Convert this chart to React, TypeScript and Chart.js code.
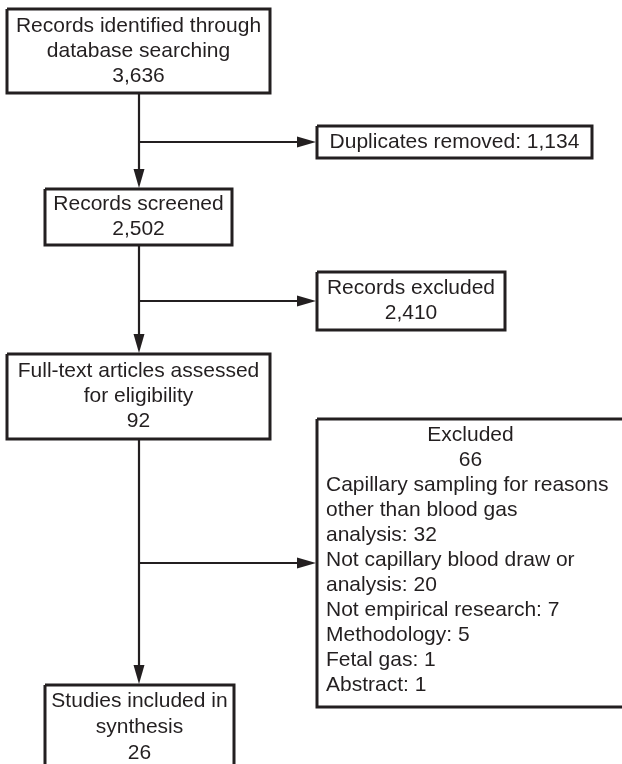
import React, { useEffect, useRef } from "react";
import { Chart, registerables } from "chart.js";

Chart.register(...registerables);

// ---- Data (counts and labels) ----
const stageLabels: string[][] = [
  ["Records identified through", "database searching"],
  ["Records screened"],
  ["Full-text articles assessed", "for eligibility"],
  ["Studies included in", "synthesis"],
];
const stageCounts: number[] = [3636, 2502, 92, 26];

const removedLabels: string[] = ["Duplicates removed", "Records excluded", "Excluded"];
const removedCounts: number[] = [1134, 2410, 66];

const reasonLabels: string[][] = [
  ["Capillary sampling for reasons", "other than blood gas", "analysis"],
  ["Not capillary blood draw or", "analysis"],
  ["Not empirical research"],
  ["Methodology"],
  ["Fetal gas"],
  ["Abstract"],
];
const reasonCounts: number[] = [32, 20, 7, 5, 1, 1];

// ---- Layout (diagram units) ----
const W = 622;
const H = 764;
type Rect = { x0: number; y0: number; x1: number; y1: number };
const stageBoxes: Rect[] = [
  { x0: 7, y0: 9, x1: 270, y1: 93 },
  { x0: 45, y0: 189, x1: 232, y1: 245 },
  { x0: 7, y0: 354, x1: 270, y1: 439 },
  { x0: 45, y0: 685, x1: 234, y1: 772 },
];
const sideBoxes: Rect[] = [
  { x0: 317, y0: 126, x1: 592, y1: 158 },
  { x0: 317, y0: 272, x1: 505, y1: 330 },
  { x0: 317, y0: 419, x1: 626, y1: 707 },
];
const spineX = 139;
const branchY = [142, 301, 563];

const INK = "#231f20";
const FONT = '21px "Liberation Sans", Arial, sans-serif';
const LINE_H = 25;

const fmt = (n: number) => n.toLocaleString("en-US");

type Seg = { from: [number, number]; to: [number, number] };
const connectors: Seg[] = [
  { from: [spineX, stageBoxes[0].y1], to: [spineX, stageBoxes[1].y0 - 1] },
  { from: [spineX, branchY[0]], to: [sideBoxes[0].x0 - 1, branchY[0]] },
  { from: [spineX, stageBoxes[1].y1], to: [spineX, stageBoxes[2].y0 - 1] },
  { from: [spineX, branchY[1]], to: [sideBoxes[1].x0 - 1, branchY[1]] },
  { from: [spineX, stageBoxes[2].y1], to: [spineX, stageBoxes[3].y0 - 1] },
  { from: [spineX, branchY[2]], to: [sideBoxes[2].x0 - 1, branchY[2]] },
];

const rectPoints = (r: Rect) => [
  { x: r.x0, y: r.y0 },
  { x: r.x1, y: r.y0 },
  { x: r.x1, y: r.y1 },
  { x: r.x0, y: r.y1 },
  { x: r.x0, y: r.y0 },
];

const ARROW_LEN = 19;
const ARROW_HALF = 5.5;

const diagramPlugin = {
  id: "diagramText",
  afterDatasetsDraw(chart: any) {
    const { ctx, scales } = chart;
    const xs = scales.x;
    const ys = scales.y;
    const px = (v: number) => xs.getPixelForValue(v);
    const py = (v: number) => ys.getPixelForValue(v);

    // arrowheads
    ctx.save();
    ctx.fillStyle = INK;
    connectors.forEach((c) => {
      const tx = px(c.to[0]);
      const ty = py(c.to[1]);
      const fx = px(c.from[0]);
      const fy = py(c.from[1]);
      const ang = Math.atan2(ty - fy, tx - fx);
      ctx.save();
      ctx.translate(tx, ty);
      ctx.rotate(ang);
      ctx.beginPath();
      ctx.moveTo(0, 0);
      ctx.lineTo(-ARROW_LEN, -ARROW_HALF);
      ctx.lineTo(-ARROW_LEN, ARROW_HALF);
      ctx.closePath();
      ctx.fill();
      ctx.restore();
    });

    // texts
    ctx.font = FONT;
    ctx.textBaseline = "middle";
    ctx.fillStyle = INK;

    const centered = (lines: string[], r: Rect, topY?: number, lh: number = LINE_H) => {
      const cx = (r.x0 + r.x1) / 2;
      const total = lines.length * lh;
      const start = topY !== undefined ? topY : (r.y0 + r.y1) / 2 - total / 2 + lh / 2;
      ctx.textAlign = "center";
      lines.forEach((l, i) => ctx.fillText(l, px(cx), py(start + i * lh)));
    };

    stageLabels.forEach((lab, i) => {
      const lines = [...lab, fmt(stageCounts[i])];
      const r = stageBoxes[i];
      if (i === 3) centered(lines, r, r.y0 + 16, 26);
      else centered(lines, r);
    });

    centered([`${removedLabels[0]}: ${fmt(removedCounts[0])}`], sideBoxes[0]);
    centered([removedLabels[1], fmt(removedCounts[1])], sideBoxes[1]);

    // Excluded box
    const eb = sideBoxes[2];
    const ecx = (eb.x0 + W) / 2 + 1;
    const top = eb.y0 + 16;
    ctx.textAlign = "center";
    ctx.fillText(removedLabels[2], px(ecx), py(top));
    ctx.fillText(fmt(removedCounts[2]), px(ecx), py(top + LINE_H));
    ctx.textAlign = "left";
    let row = 2;
    reasonLabels.forEach((lines, i) => {
      lines.forEach((l, j) => {
        const t = j === lines.length - 1 ? `${l}: ${reasonCounts[i]}` : l;
        ctx.fillText(t, px(eb.x0 + 9), py(top + row * LINE_H));
        row++;
      });
    });
    ctx.restore();
  },
};

export default function App() {
  const ref = useRef<HTMLCanvasElement | null>(null);
  useEffect(() => {
    if (!ref.current) return;
    const datasets: any[] = [];
    [...stageBoxes, ...sideBoxes].forEach((r) => {
      datasets.push({
        data: rectPoints(r),
        showLine: true,
        borderColor: INK,
        borderWidth: 3,
        borderJoinStyle: "miter",
        pointRadius: 0,
        fill: false,
        clip: false,
        tension: 0,
      });
    });
    connectors.forEach((c) => {
      const dx = c.to[0] - c.from[0];
      const dy = c.to[1] - c.from[1];
      const len = Math.hypot(dx, dy);
      const endX = c.to[0] - (dx / len) * (ARROW_LEN - 2);
      const endY = c.to[1] - (dy / len) * (ARROW_LEN - 2);
      datasets.push({
        data: [
          { x: c.from[0], y: c.from[1] },
          { x: endX, y: endY },
        ],
        showLine: true,
        borderColor: INK,
        borderWidth: 2.2,
        pointRadius: 0,
        fill: false,
        clip: false,
      });
    });
    const chart = new Chart(ref.current, {
      type: "scatter",
      data: { datasets },
      options: {
        animation: false,
        responsive: false,
        layout: { padding: 0 },
        scales: {
          x: { type: "linear", min: 0, max: W, display: false },
          y: { type: "linear", min: 0, max: H, reverse: true, display: false },
        },
        plugins: { legend: { display: false }, tooltip: { enabled: false } },
        events: [],
      },
      plugins: [diagramPlugin],
    } as any);
    return () => chart.destroy();
  }, []);
  return (
    <div style={{ position: "absolute", left: 0, top: 0, width: W, height: H, background: "#fff" }}>
      <canvas ref={ref} width={W} height={H} style={{ display: "block" }} />
    </div>
  );
}
